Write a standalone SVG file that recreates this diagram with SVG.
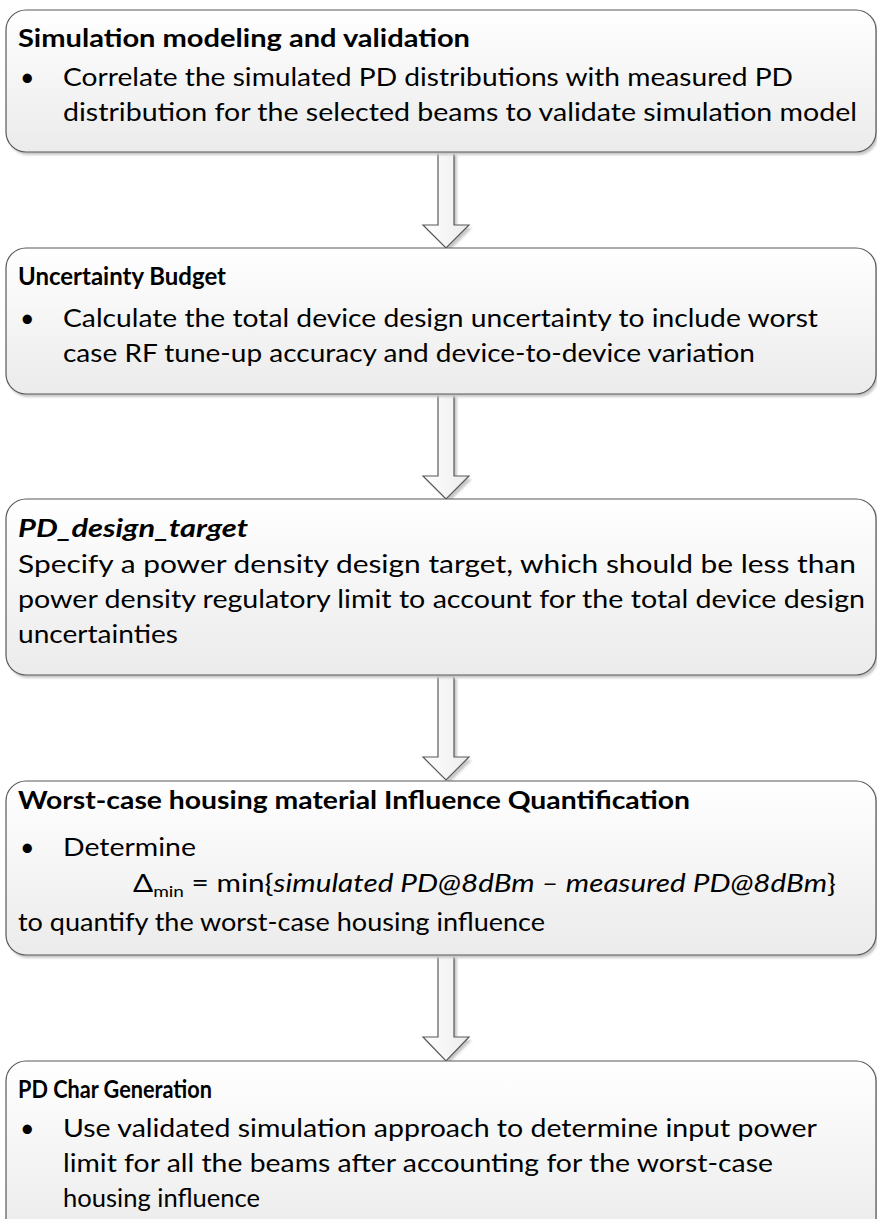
<svg xmlns="http://www.w3.org/2000/svg" width="877" height="1219" viewBox="0 0 877 1219">
<defs>
<linearGradient id="boxg" x1="0" y1="0" x2="0" y2="1">
<stop offset="0" stop-color="#ffffff"/>
<stop offset="1" stop-color="#ebebeb"/>
</linearGradient>
<linearGradient id="arrg" x1="0" y1="0" x2="1" y2="0">
<stop offset="0" stop-color="#ffffff"/>
<stop offset="1" stop-color="#ececec"/>
</linearGradient>
<filter id="sh" x="-5%" y="-5%" width="110%" height="120%">
<feGaussianBlur stdDeviation="1.2"/>
</filter>
</defs>
<style>
.box{fill:url(#boxg);stroke:#595959;stroke-width:1.2}
.shadow{fill:#c8c8c8;filter:url(#sh)}
.arr{fill:url(#arrg);stroke:#595959;stroke-width:1.2;stroke-linejoin:miter}
.t{font-family:Lato,"Open Sans","Liberation Sans",sans-serif;font-size:25px;fill:#000}
.b{font-weight:700}
.i{font-style:italic}
</style>
<rect width="877" height="1219" fill="#ffffff"/>

<g id="connectors">
<path class="shadow" d="M441,155 H457 V228 H472 L449,251 L426,228 H441 Z"/>
<path class="arr" d="M438,152 H454 V225 H469 L446,248 L423,225 H438 Z"/>
<path class="shadow" d="M441,397 H457 V479 H472 L449,502 L426,479 H441 Z"/>
<path class="arr" d="M438,394 H454 V476 H469 L446,499 L423,476 H438 Z"/>
<path class="shadow" d="M441,679 H457 V760 H472 L449,783 L426,760 H441 Z"/>
<path class="arr" d="M438,676 H454 V757 H469 L446,780 L423,757 H438 Z"/>
<path class="shadow" d="M441,958 H457 V1040 H472 L449,1063 L426,1040 H441 Z"/>
<path class="arr" d="M438,955 H454 V1037 H469 L446,1061 L423,1037 H438 Z"/>
</g>

<g id="node1">
<rect class="shadow" x="8" y="13" width="870" height="142" rx="20"/>
<rect class="box" x="6" y="10" width="870" height="142" rx="20"/>
<text class="t b" x="18" y="47" textLength="452" lengthAdjust="spacingAndGlyphs">Simulation modeling and validation</text>
<text class="t" x="20" y="86">•</text>
<text class="t" x="63" y="86" textLength="730" lengthAdjust="spacingAndGlyphs">Correlate the simulated PD distributions with measured PD</text>
<text class="t" x="63" y="121" textLength="794" lengthAdjust="spacingAndGlyphs">distribution for the selected beams to validate simulation model</text>
</g>

<g id="node2">
<rect class="shadow" x="8" y="251" width="870" height="146" rx="20"/>
<rect class="box" x="6" y="248" width="870" height="146" rx="20"/>
<text class="t b" x="18" y="285" textLength="208" lengthAdjust="spacingAndGlyphs">Uncertainty Budget</text>
<text class="t" x="20" y="327">•</text>
<text class="t" x="63" y="327" textLength="755" lengthAdjust="spacingAndGlyphs">Calculate the total device design uncertainty to include worst</text>
<text class="t" x="63" y="362" textLength="692" lengthAdjust="spacingAndGlyphs">case RF tune-up accuracy and device-to-device variation</text>
</g>

<g id="node3">
<rect class="shadow" x="8" y="502" width="870" height="176" rx="20"/>
<rect class="box" x="6" y="499" width="870" height="176" rx="20"/>
<text class="t b i" x="18" y="537" textLength="230" lengthAdjust="spacingAndGlyphs">PD_design_target</text>
<text class="t" x="18" y="573" textLength="838" lengthAdjust="spacingAndGlyphs">Specify a power density design target, which should be less than</text>
<text class="t" x="18" y="608" textLength="847" lengthAdjust="spacingAndGlyphs">power density regulatory limit to account for the total device design</text>
<text class="t" x="18" y="643" textLength="160" lengthAdjust="spacingAndGlyphs">uncertainties</text>
</g>

<g id="node4">
<rect class="shadow" x="8" y="784" width="870" height="174" rx="20"/>
<rect class="box" x="6" y="781" width="870" height="174" rx="20"/>
<text class="t b" x="18" y="809" textLength="672" lengthAdjust="spacingAndGlyphs">Worst-case housing material Influence Quantification</text>
<text class="t" x="20" y="856">•</text>
<text class="t" x="63" y="856" textLength="133" lengthAdjust="spacingAndGlyphs">Determine</text>
<text class="t" x="133" y="892" textLength="703" lengthAdjust="spacingAndGlyphs">Δ<tspan font-size="16" dy="5">min</tspan><tspan dy="-5"> = min{</tspan><tspan class="i">simulated PD@8dBm – measured PD@8dBm</tspan>}</text>
<text class="t" x="18" y="931" textLength="527" lengthAdjust="spacingAndGlyphs">to quantify the worst-case housing influence</text>
</g>

<g id="node5">
<rect class="shadow" x="8" y="1064" width="870" height="180" rx="20"/>
<rect class="box" x="6" y="1061" width="870" height="180" rx="20"/>
<text class="t b" x="18" y="1098" textLength="194" lengthAdjust="spacingAndGlyphs">PD Char Generation</text>
<text class="t" x="20" y="1137">•</text>
<text class="t" x="63" y="1137" textLength="754" lengthAdjust="spacingAndGlyphs">Use validated simulation approach to determine input power</text>
<text class="t" x="63" y="1172" textLength="710" lengthAdjust="spacingAndGlyphs">limit for all the beams after accounting for the worst-case</text>
<text class="t" x="63" y="1207" textLength="197" lengthAdjust="spacingAndGlyphs">housing influence</text>
</g>
</svg>
